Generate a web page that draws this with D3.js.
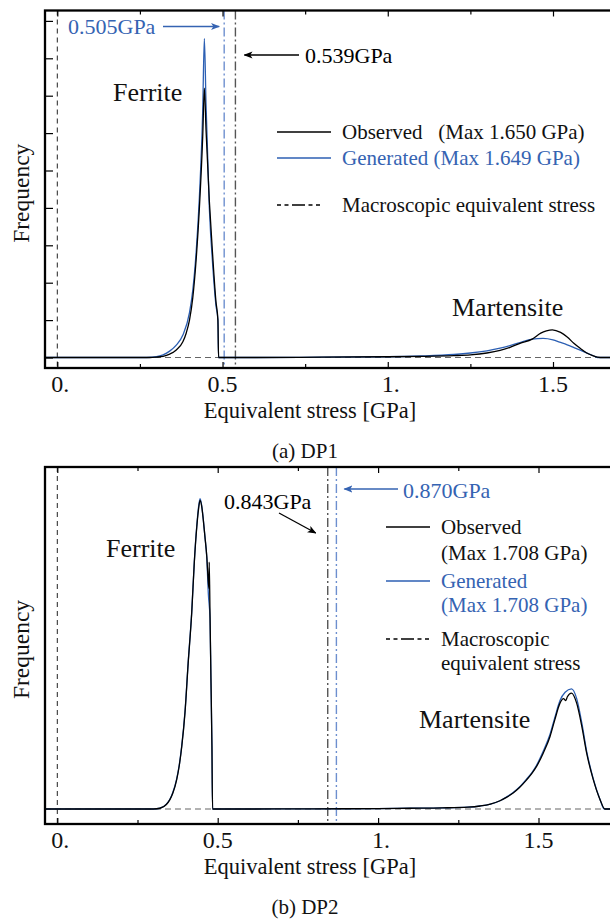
<!DOCTYPE html>
<html>
<head>
<meta charset="utf-8">
<script src="https://cdn.jsdelivr.net/npm/d3@7"></script>
<style>
  html, body { margin: 0; padding: 0; background: #fff; }
  svg { display: block; font-family: "Liberation Serif", "Times New Roman", serif; }
  svg text { font-family: "Liberation Serif", "Times New Roman", serif; }
</style>
</head>
<body>
<svg id="chart" width="610" height="922"></svg>
<script>
// ---- Axis ticks ----
const xTickValues = [0, 0.5, 1, 1.5];
const xTickLabels = ["0.", "0.5", "1.", "1.5"];
const xMinorTicks = [0.25, 0.75, 1.25];
const dp1FreqTicks = [0, 1, 2, 3, 4, 5, 6, 7, 8, 9];

// ---- DP1: equivalent stress [GPa] vs frequency ----
const dp1ObsStress = [-0.05, 0.28, 0.30, 0.32, 0.34, 0.36, 0.38, 0.39, 0.40, 0.41, 0.42, 0.43, 0.44, 0.445, 0.45, 0.46, 0.47, 0.48, 0.486, 0.488, 0.60, 0.80, 1.00, 1.10, 1.20, 1.25, 1.30, 1.34, 1.37, 1.40, 1.437, 1.463, 1.48, 1.498, 1.523, 1.543, 1.563, 1.583, 1.602, 1.62, 1.643, 1.70];
const dp1ObsFreq   = [0, 0, 0.01, 0.03, 0.09, 0.2, 0.42, 0.65, 1.0, 1.6, 2.6, 4.0, 5.9, 7.2, 6.1, 4.2, 2.75, 1.5, 1.0, 0, 0, 0.01, 0.02, 0.03, 0.05, 0.07, 0.12, 0.19, 0.27, 0.38, 0.49, 0.65, 0.71, 0.74, 0.67, 0.55, 0.38, 0.24, 0.12, 0.05, 0, 0];
const dp1GenStress = [-0.05, 0.27, 0.30, 0.32, 0.34, 0.36, 0.38, 0.40, 0.41, 0.42, 0.43, 0.44, 0.445, 0.45, 0.46, 0.464, 0.467, 0.47, 0.48, 0.486, 0.488, 0.60, 0.80, 1.00, 1.10, 1.20, 1.25, 1.30, 1.34, 1.37, 1.40, 1.437, 1.47, 1.50, 1.52, 1.543, 1.565, 1.584, 1.605, 1.624, 1.635, 1.70];
const dp1GenFreq   = [0, 0, 0.02, 0.07, 0.17, 0.33, 0.6, 1.2, 1.8, 2.8, 4.3, 6.6, 8.53, 6.8, 4.0, 3.3, 2.9, 2.5, 1.4, 1.0, 0, 0, 0.01, 0.02, 0.04, 0.08, 0.12, 0.18, 0.25, 0.32, 0.4, 0.49, 0.51, 0.47, 0.41, 0.34, 0.26, 0.19, 0.11, 0.04, 0, 0];
const dp1MacroObs = 0.539;
const dp1MacroGen = 0.505;
const dp1MaxObs = 1.650;
const dp1MaxGen = 1.649;

// ---- DP2 ----
const dp2ObsStress = [-0.05, 0.30, 0.32, 0.34, 0.351, 0.36, 0.372, 0.38, 0.388, 0.398, 0.408, 0.419, 0.427, 0.435, 0.44, 0.445, 0.45, 0.455, 0.46, 0.466, 0.471, 0.473, 0.4735, 0.476, 0.479, 0.482, 0.484, 0.60, 0.80, 1.00, 1.10, 1.20, 1.28, 1.318, 1.35, 1.38, 1.40, 1.421, 1.44, 1.463, 1.48, 1.494, 1.515, 1.536, 1.551, 1.567, 1.578, 1.585, 1.59, 1.603, 1.619, 1.635, 1.65, 1.671, 1.692, 1.707, 1.75];
const dp2ObsFreq   = [0, 0, 0.02, 0.12, 0.25, 0.42, 0.78, 1.15, 1.67, 2.57, 3.9, 5.24, 6.58, 7.56, 8.0, 8.25, 8.1, 7.74, 7.3, 6.75, 6.04, 5.9, 6.6, 5.24, 3.46, 1.7, 0, 0, 0.005, 0.01, 0.02, 0.03, 0.05, 0.08, 0.13, 0.22, 0.31, 0.43, 0.57, 0.78, 0.96, 1.14, 1.5, 1.94, 2.39, 2.83, 2.95, 2.9, 3.0, 3.1, 2.83, 2.21, 1.5, 0.78, 0.25, 0, 0];
const dp2GenStress = [-0.05, 0.30, 0.32, 0.34, 0.351, 0.36, 0.372, 0.38, 0.388, 0.398, 0.408, 0.419, 0.427, 0.435, 0.44, 0.445, 0.45, 0.455, 0.46, 0.466, 0.471, 0.476, 0.479, 0.482, 0.484, 0.60, 0.80, 1.00, 1.10, 1.20, 1.28, 1.318, 1.35, 1.38, 1.40, 1.421, 1.44, 1.463, 1.48, 1.494, 1.515, 1.536, 1.551, 1.567, 1.583, 1.603, 1.619, 1.635, 1.65, 1.671, 1.692, 1.705, 1.75];
const dp2GenFreq   = [0, 0, 0.02, 0.13, 0.26, 0.44, 0.8, 1.17, 1.7, 2.6, 3.93, 5.27, 6.6, 7.6, 8.05, 8.3, 8.12, 7.75, 7.3, 6.72, 5.73, 5.1, 3.4, 1.7, 0, 0, 0.005, 0.01, 0.02, 0.03, 0.05, 0.08, 0.13, 0.22, 0.32, 0.44, 0.58, 0.8, 0.98, 1.17, 1.55, 2.0, 2.45, 2.9, 3.12, 3.21, 2.95, 2.3, 1.55, 0.8, 0.25, 0, 0];
const dp2MacroObs = 0.843;
const dp2MacroGen = 0.870;
const dp2MaxObs = 1.708;
const dp2MaxGen = 1.708;

// ---- Styling ----
const BLACK = "#000";
const BLUE = "#2c5fb3";
const BLUE_TEXT = "#3563b2";
const BLUE_MACRO = "#6d8fcf";
const GRAY_MACRO = "#555";
const DASH_DOT = "9,3,2,3";
const LEGEND_DASH = "4,3.5,4,3.5,13,3.5,4,3.5,4,20";

const svg = d3.select("#chart");
const defs = svg.append("defs");

function arrowMarker(id, color) {
  defs.append("marker")
    .attr("id", id)
    .attr("viewBox", "0 -5 10 10")
    .attr("refX", 9).attr("refY", 0)
    .attr("markerWidth", 9).attr("markerHeight", 9)
    .attr("markerUnits", "userSpaceOnUse")
    .attr("orient", "auto")
    .append("path")
    .attr("d", "M0,-4L10,0L0,4L2.5,0Z")
    .attr("fill", color);
}
arrowMarker("arrowBlack", BLACK);
arrowMarker("arrowBlue", BLUE_TEXT);

const fmtGPa = d3.format(".3f");

function zip(xs, ys) { return xs.map((x, i) => ({ x, y: ys[i] })); }

function drawPanel(p) {
  const g = svg.append("g");
  const { left, right, top, bottom } = p.frame;

  const x = d3.scaleLinear().domain([0, 1.5]).range(p.xRange);
  const y = d3.scaleLinear().domain([0, p.yRef]).range(p.yRange);

  const clipId = "clip-" + p.id;
  defs.append("clipPath").attr("id", clipId)
    .append("rect").attr("x", left).attr("y", top)
    .attr("width", right - left).attr("height", bottom - top);

  const plot = g.append("g").attr("clip-path", `url(#${clipId})`);

  // zero-frequency reference line
  plot.append("line")
    .attr("x1", left).attr("x2", right)
    .attr("y1", y(0)).attr("y2", y(0))
    .attr("stroke", "#666").attr("stroke-width", 1.2)
    .attr("stroke-dasharray", "6,4");

  // zero-stress reference line
  plot.append("line")
    .attr("x1", x(0)).attr("x2", x(0))
    .attr("y1", top).attr("y2", bottom)
    .attr("stroke", "#222").attr("stroke-width", 1)
    .attr("stroke-dasharray", "5,4");

  // macroscopic equivalent stress lines
  plot.append("line")
    .attr("x1", x(p.macroGen)).attr("x2", x(p.macroGen))
    .attr("y1", top).attr("y2", bottom)
    .attr("stroke", BLUE_MACRO).attr("stroke-width", 1.4)
    .attr("stroke-dasharray", DASH_DOT);
  plot.append("line")
    .attr("x1", x(p.macroObs)).attr("x2", x(p.macroObs))
    .attr("y1", top).attr("y2", bottom)
    .attr("stroke", GRAY_MACRO).attr("stroke-width", 1.4)
    .attr("stroke-dasharray", DASH_DOT);

  const line = d3.line().x(d => x(d.x)).y(d => y(d.y)).curve(d3.curveMonotoneX);

  plot.append("path")
    .datum(zip(p.genX, p.genY))
    .attr("d", line).attr("fill", "none")
    .attr("stroke", BLUE).attr("stroke-width", 1.3);
  plot.append("path")
    .datum(zip(p.obsX, p.obsY))
    .attr("d", line).attr("fill", "none")
    .attr("stroke", BLACK).attr("stroke-width", 1.3);

  // frame
  g.append("rect")
    .attr("x", left).attr("y", top)
    .attr("width", right - left).attr("height", bottom - top)
    .attr("fill", "none").attr("stroke", BLACK).attr("stroke-width", 2.3);

  // bottom axis (inward ticks)
  const axB = g.append("g").attr("transform", `translate(0,${bottom})`);
  axB.call(d3.axisBottom(x).tickValues(xTickValues).tickSize(-6).tickFormat(() => ""));
  axB.append("g").call(d3.axisBottom(x).tickValues(xMinorTicks).tickSize(-4).tickFormat(() => ""));
  axB.selectAll(".domain").remove();
  axB.selectAll("line").attr("stroke", BLACK).attr("stroke-width", 1.2);

  // top axis (mirrored ticks)
  const axT = g.append("g").attr("transform", `translate(0,${top})`);
  axT.call(d3.axisTop(x).tickValues(xTickValues).tickSize(-6).tickFormat(() => ""));
  axT.append("g").call(d3.axisTop(x).tickValues(xMinorTicks).tickSize(-4).tickFormat(() => ""));
  axT.selectAll(".domain").remove();
  axT.selectAll("line").attr("stroke", BLACK).attr("stroke-width", 1.2);

  // tick labels
  g.selectAll("text.tick-label")
    .data(xTickValues)
    .enter().append("text")
    .attr("class", "tick-label")
    .attr("x", d => x(d))
    .attr("y", bottom + 24)
    .attr("dx", (d, i) => xTickLabels[i].endsWith(".") ? "0.125em" : 0)
    .attr("text-anchor", "middle")
    .attr("font-size", 24)
    .attr("fill", "#111")
    .text((d, i) => xTickLabels[i]);

  // left axis ticks
  if (p.yTicks) {
    const axL = g.append("g").attr("transform", `translate(${left},0)`);
    axL.call(d3.axisLeft(y).tickValues(p.yTicks).tickSize(-8).tickFormat(() => ""));
    axL.selectAll(".domain").remove();
    axL.selectAll("line").attr("stroke", BLACK).attr("stroke-width", 1.2);
  }

  // axis titles
  g.append("text")
    .attr("x", 310).attr("y", bottom + 50)
    .attr("text-anchor", "middle").attr("font-size", 22.5).attr("fill", "#111")
    .text("Equivalent stress [GPa]");
  g.append("text")
    .attr("transform", `translate(29,${(top + bottom) / 2 + 4}) rotate(-90)`)
    .attr("text-anchor", "middle").attr("font-size", 23.5).attr("fill", "#111")
    .text("Frequency");

  // caption
  g.append("text")
    .attr("x", 305).attr("y", bottom + 90)
    .attr("text-anchor", "middle").attr("font-size", 21).attr("fill", "#111")
    .text(p.caption);

  // phase labels
  p.phaseLabels.forEach(l => {
    g.append("text").attr("x", l.x).attr("y", l.y)
      .attr("font-size", 26).attr("fill", "#111").text(l.text);
  });

  // macroscopic-stress annotations
  p.notes.forEach(n => {
    g.append("text").attr("x", n.tx).attr("y", n.ty)
      .attr("font-size", 22).attr("fill", n.color)
      .text(fmtGPa(n.value) + "GPa");
    g.append("line")
      .attr("x1", n.ax1).attr("y1", n.ay1)
      .attr("x2", x(n.value) + n.tipOffset).attr("y2", n.ay2)
      .attr("stroke", n.color).attr("stroke-width", 1.3)
      .attr("marker-end", `url(#${n.marker})`);
  });

  // legend
  const lg = p.legend;
  lg.rows.forEach(r => {
    if (r.sample) {
      g.append("line")
        .attr("x1", lg.x1).attr("x2", lg.x2)
        .attr("y1", r.y).attr("y2", r.y)
        .attr("stroke", r.sample.color).attr("stroke-width", 1.3)
        .attr("stroke-dasharray", r.sample.dash || null);
    }
    g.append("text")
      .attr("x", lg.tx).attr("y", r.y + 7)
      .attr("font-size", 21).attr("fill", r.color)
      .attr("xml:space", "preserve")
      .style("white-space", "pre")
      .text(r.text);
  });
}

// ---- Panel (a) DP1 ----
drawPanel({
  id: "dp1",
  frame: { left: 45, right: 612, top: 10.5, bottom: 368 },
  xRange: [57.3, 553],
  yRef: 9, yRange: [357.5, 357.5 - 9 * 37.4],
  yTicks: dp1FreqTicks,
  obsX: dp1ObsStress, obsY: dp1ObsFreq,
  genX: dp1GenStress, genY: dp1GenFreq,
  macroObs: dp1MacroObs, macroGen: dp1MacroGen,
  caption: "(a) DP1",
  phaseLabels: [
    { text: "Ferrite", x: 113, y: 101 },
    { text: "Martensite", x: 452, y: 316 }
  ],
  notes: [
    { value: dp1MacroGen, color: BLUE_TEXT, marker: "arrowBlue", tx: 68, ty: 34, ax1: 163, ay1: 26.5, ay2: 26.5, tipOffset: -5 },
    { value: dp1MacroObs, color: BLACK, marker: "arrowBlack", tx: 305, ty: 63, ax1: 299, ay1: 55, ay2: 55, tipOffset: 9 }
  ],
  legend: {
    x1: 277, x2: 331, tx: 342,
    rows: [
      { y: 132, text: `Observed   (Max ${fmtGPa(dp1MaxObs)} GPa)`, color: "#111", sample: { color: BLACK } },
      { y: 158, text: `Generated (Max ${fmtGPa(dp1MaxGen)} GPa)`, color: BLUE_TEXT, sample: { color: BLUE } },
      { y: 205, text: "Macroscopic equivalent stress", color: "#111", sample: { color: BLACK, dash: LEGEND_DASH } }
    ]
  }
});

// ---- Panel (b) DP2 ----
drawPanel({
  id: "dp2",
  frame: { left: 45, right: 612, top: 467, bottom: 824 },
  xRange: [57.3, 538.5],
  yRef: 8, yRange: [809, 809 - 8 * 37.4],
  yTicks: null,
  obsX: dp2ObsStress, obsY: dp2ObsFreq,
  genX: dp2GenStress, genY: dp2GenFreq,
  macroObs: dp2MacroObs, macroGen: dp2MacroGen,
  caption: "(b) DP2",
  phaseLabels: [
    { text: "Ferrite", x: 106, y: 557 },
    { text: "Martensite", x: 419, y: 728 }
  ],
  notes: [
    { value: dp2MacroGen, color: BLUE_TEXT, marker: "arrowBlue", tx: 403, ty: 498, ax1: 398, ay1: 489, ay2: 489, tipOffset: 8 },
    { value: dp2MacroObs, color: BLACK, marker: "arrowBlack", tx: 224, ty: 509, ax1: 279, ay1: 513, ay2: 533, tipOffset: -12 }
  ],
  legend: {
    x1: 386, x2: 430, tx: 441,
    rows: [
      { y: 527, text: "Observed", color: "#111", sample: { color: BLACK } },
      { y: 553, text: `(Max ${fmtGPa(dp2MaxObs)} GPa)`, color: "#111" },
      { y: 581, text: "Generated", color: BLUE_TEXT, sample: { color: BLUE } },
      { y: 605, text: `(Max ${fmtGPa(dp2MaxGen)} GPa)`, color: BLUE_TEXT },
      { y: 639, text: "Macroscopic", color: "#111", sample: { color: BLACK, dash: LEGEND_DASH } },
      { y: 663, text: "equivalent stress", color: "#111" }
    ]
  }
});
</script>
</body>
</html>
